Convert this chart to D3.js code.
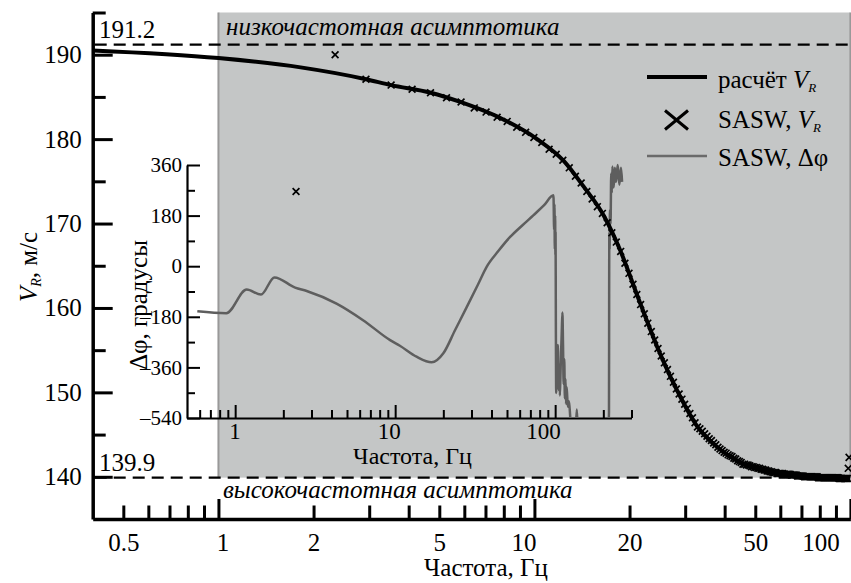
<!DOCTYPE html>
<html>
<head>
<meta charset="utf-8">
<script src="https://cdn.jsdelivr.net/npm/d3@7"></script>
<style>
  body { margin: 0; background: #fff; }
  svg { display: block; }
</style>
</head>
<body>
<svg id="chart"></svg>
<script>
// calculated V_R curve
const calcFreq = [0.4, 1, 1.82, 2.93, 3.52, 4.7, 5.83, 8.0, 10.2, 12.4, 14.3, 16.6, 18.7, 21.1,
  24.4, 28.3, 32.7, 38.8, 45.9, 57, 72.9, 100];
const calcVel = [190.5, 189.6, 188.5, 187.1, 186.4, 185.5, 184.4, 182.3, 180.0, 177.4, 174.4, 170.9, 166.8, 161.6,
  155.5, 150.2, 146.0, 143.2, 141.5, 140.5, 140.0, 139.8];

// SASW V_R points
const saswFreq = [
  1.76, 2.34, 2.93, 3.52, 4.10, 4.69, 5.27, 5.86, 6.45, 7.03,
  7.62, 8.20, 8.79, 9.38, 9.96, 10.55, 11.13, 11.72, 12.30, 12.89,
  13.48, 14.06, 14.65, 15.23, 15.82, 16.41, 16.99, 17.58, 18.16, 18.75,
  19.34, 19.92, 20.51, 21.09, 21.68, 22.27, 22.85, 23.44, 24.02, 24.61,
  25.20, 25.78, 26.37, 26.95, 27.54, 28.13, 28.71, 29.30, 29.88, 30.47,
  31.05, 31.64, 32.23, 32.81, 33.40, 33.98, 34.57, 35.16, 35.74, 36.33,
  36.91, 37.50, 38.09, 38.67, 39.26, 39.84, 40.43, 41.02, 41.60, 42.19,
  42.77, 43.36, 43.95, 44.53, 45.12, 45.70, 46.29, 46.88, 47.46, 48.05,
  48.63, 49.22, 49.80, 50.39, 50.98, 51.56, 52.15, 52.73, 53.32, 53.91,
  54.49, 55.08, 55.66, 56.25, 56.84, 57.42, 58.01, 58.59, 59.18, 59.77,
  60.35, 60.94, 61.52, 62.11, 62.70, 63.28, 63.87, 64.45, 65.04, 65.63,
  66.21, 66.80, 67.38, 67.97, 68.55, 69.14, 69.73, 70.31, 70.90, 71.48,
  72.07, 72.66, 73.24, 73.83, 74.41, 75.00, 75.59, 76.17, 76.76, 77.34,
  77.93, 78.52, 79.10, 79.69, 80.27, 80.86, 81.45, 82.03, 82.62, 83.20,
  83.79, 84.38, 84.96, 85.55, 86.13, 86.72, 87.30, 87.89, 88.48, 89.06,
  89.65, 90.23, 90.82, 91.41, 91.99, 92.58, 93.16, 93.75, 94.34, 94.92,
  95.51, 96.09, 96.68, 97.27, 97.85, 98.44, 99.02];
const saswVel = [
  173.8, 190.0, 187.1, 186.4, 185.9, 185.5, 184.9, 184.4, 183.7, 183.2,
  182.6, 182.1, 181.4, 180.8, 180.2, 179.6, 178.8, 178.2, 177.5, 176.6,
  175.6, 174.8, 173.8, 172.9, 172.0, 171.2, 170.1, 168.9, 167.8, 166.7,
  165.3, 164.1, 162.8, 161.6, 160.4, 159.3, 158.2, 157.2, 156.2, 155.2,
  154.3, 153.5, 152.7, 151.9, 151.2, 150.4, 149.8, 149.2, 148.6, 148.1,
  147.5, 147.0, 146.4, 145.9, 145.7, 145.4, 145.1, 144.8, 144.5, 144.3,
  144.0, 143.8, 143.5, 143.3, 143.1, 142.9, 142.8, 142.6, 142.5, 142.4,
  142.2, 142.1, 141.9, 141.8, 141.7, 141.5, 141.5, 141.4, 141.4, 141.3,
  141.2, 141.2, 141.1, 141.1, 141.0, 141.0, 140.9, 140.9, 140.8, 140.8,
  140.7, 140.7, 140.6, 140.6, 140.5, 140.5, 140.5, 140.4, 140.4, 140.4,
  140.4, 140.4, 140.3, 140.3, 140.3, 140.3, 140.3, 140.3, 140.2, 140.2,
  140.2, 140.2, 140.2, 140.1, 140.1, 140.1, 140.1, 140.1, 140.1, 140.0,
  140.0, 140.0, 140.0, 140.0, 140.0, 140.0, 140.0, 140.0, 140.0, 140.0,
  140.0, 140.0, 139.9, 139.9, 139.9, 139.9, 139.9, 139.9, 139.9, 139.9,
  139.9, 139.9, 139.9, 139.9, 139.9, 139.9, 139.9, 139.9, 139.9, 139.9,
  139.9, 139.9, 139.9, 139.9, 139.8, 139.8, 139.8, 139.8, 139.8, 139.8,
  139.8, 139.8, 139.8, 139.8, 139.8, 141.0, 142.3];

// SASW phase difference (inset)
const phaseFreq = [0.58, 0.88, 1.18, 1.45, 1.76, 2.37, 2.8, 4.3, 6.3, 9.3, 10.7, 13.6, 16.9, 20.0, 23.7,
  28.1, 33, 37.3, 44, 52.3, 62, 73, 85, 97.6, 98.5, 99, 99.5, 100, 100.3, 100.6, 101, 101.5,
  102, 103, 104, 105, 106, 107, 108, 109, 110, 111, 112, 113, 114, 115, 116, 117, 118, 120,
  122, 124, 126, 134, 136.5, 139, 214, 217, 217.5, 218, 219, 220, 222, 224, 226, 228,
  232, 236, 240, 246, 252, 258, 262];
const phaseDeg = [-160, -167, -83, -101, -40, -76, -88, -133, -192, -263, -283, -322, -342, -310, -227,
  -144, -64, -2, 53, 104, 144, 181, 216, 252, 130, 220, 60, 180, 40, 120, -200, -451,
  -300, -420, -280, -440, -350, -460, -380, -300, -230, -165, -280, -420, -330, -470, -400, -490, -430, -500,
  -480, -530, -600, -600, -510, -600, -600, -517, -100, 120, 60, 200, 150, 330, 260, 355,
  280, 350, 300, 360, 290, 350, 300];

const yMajor = [140, 150, 160, 170, 180, 190];
const yMinor = [145, 155, 165, 175, 185, 195];
const xMajor = [1, 10, 100];
const xMinor = [0.5, 0.6, 0.7, 0.8, 0.9, 2, 3, 4, 5, 6, 7, 8, 9, 20, 30, 40, 50, 60, 70, 80, 90];
const xLabels = [0.5, 1, 2, 5, 10, 20, 50, 100];
const asymptotes = [191.2, 139.9];

const phaseMajor = [-540, -360, -180, 0, 180, 360];
const phaseMinor = [-450, -270, -90, 90, 270];
const ixMajor = [1, 10, 100];
const ixMinor = [0.6, 0.7, 0.8, 0.9, 2, 3, 4, 5, 6, 7, 8, 9, 20, 30, 40, 50, 60, 70, 80, 90, 200, 300];

const width = 851;
const height = 583;

const svg = d3.select("#chart")
  .attr("width", width)
  .attr("height", height);

const x = d3.scaleLog().domain([0.4, 100]).range([92.7, 850.4]);
const y = d3.scaleLinear().domain([135, 195]).range([519, 12.5]);

const ix = d3.scaleLog().domain([0.5, 300]).range([187, 631.5]);
const iy = d3.scaleLinear().domain([-540, 360]).range([418, 165]);

const noAxisFont = g => g.attr("font-family", null).attr("font-size", null);

// gray band (f >= 1 Hz)
svg.append("rect")
  .attr("x", x(1))
  .attr("y", y(195))
  .attr("width", x(100) - x(1))
  .attr("height", y(139.9) - y(195))
  .attr("fill", "#c4c6c6");
[1, 100].forEach(f => {
  svg.append("line")
    .attr("x1", x(f)).attr("x2", x(f))
    .attr("y1", y(195)).attr("y2", y(139.9))
    .attr("stroke", "#999").attr("stroke-width", 2);
});

// asymptotes
asymptotes.forEach(v => {
  svg.append("line")
    .attr("x1", x(0.4) + 2).attr("x2", width)
    .attr("y1", y(v)).attr("y2", y(v))
    .attr("stroke", "#000")
    .attr("stroke-width", 2.2)
    .attr("stroke-dasharray", "12,7");
  svg.append("text")
    .attr("x", 99)
    .attr("y", y(v) - 7)
    .attr("font-size", 25)
    .text(v.toFixed(1));
});

svg.append("text")
  .attr("x", 226).attr("y", 35)
  .attr("font-size", 25).attr("font-style", "italic")
  .text("низкочастотная асимптотика");
svg.append("text")
  .attr("x", 223).attr("y", 498)
  .attr("font-size", 25).attr("font-style", "italic")
  .text("высокочастотная асимптотика");

// ---- inset: phase difference ----
const inset = svg.append("g");

svg.append("clipPath").attr("id", "insetClip")
  .append("rect")
  .attr("x", ix(0.5)).attr("y", iy(360) - 2)
  .attr("width", ix(300) - ix(0.5)).attr("height", iy(-540) - iy(360) + 1);

const phaseData = phaseFreq.map((f, i) => ({ f, v: phaseDeg[i] }));
inset.append("path")
  .datum(phaseData)
  .attr("clip-path", "url(#insetClip)")
  .attr("fill", "none")
  .attr("stroke", "#5e5e5e")
  .attr("stroke-width", 2.5)
  .attr("stroke-linejoin", "round")
  .attr("d", d3.line().x(d => ix(d.f)).y(d => iy(d.v)).curve(d3.curveMonotoneX));

const minus = d => (d < 0 ? "\u2013" + (-d) : String(d));

const iyAxis = inset.append("g")
  .attr("transform", `translate(${ix(0.5)},0)`)
  .call(d3.axisLeft(iy).tickValues(phaseMajor).tickSize(-13).tickSizeOuter(0).tickPadding(5).tickFormat(minus))
  .call(noAxisFont);
inset.append("g")
  .attr("transform", `translate(${ix(0.5)},0)`)
  .call(d3.axisLeft(iy).tickValues(phaseMinor).tickSize(-8).tickFormat(""))
  .call(g => g.select(".domain").remove());

const ixAxis = inset.append("g")
  .attr("transform", `translate(0,${iy(-540)})`)
  .call(d3.axisBottom(ix).tickValues(ixMajor).tickSize(-13).tickSizeOuter(0).tickPadding(5).tickFormat(d3.format("")))
  .call(noAxisFont);
inset.append("g")
  .attr("transform", `translate(0,${iy(-540)})`)
  .call(d3.axisBottom(ix).tickValues(ixMinor).tickSize(-8).tickFormat(""))
  .call(g => g.select(".domain").remove());

inset.selectAll(".domain").attr("stroke", "#000").attr("stroke-width", 2.2);
inset.selectAll(".tick line").attr("stroke", "#000").attr("stroke-width", 2);
iyAxis.selectAll("text").attr("font-size", 21).attr("fill", "#000");
ixAxis.selectAll("text").attr("font-size", 23).attr("fill", "#000")
  .attr("text-anchor", "end").attr("dx", 5);

inset.append("text")
  .attr("x", 412.5).attr("y", 464)
  .attr("text-anchor", "middle").attr("font-size", 24)
  .text("Частота, Гц");
inset.append("text")
  .attr("transform", "translate(147,305) rotate(-90)")
  .attr("text-anchor", "middle").attr("font-size", 25)
  .text("Δφ, градусы");

// ---- main curve and SASW points ----
const calcData = calcFreq.map((f, i) => ({ f, v: calcVel[i] }));
svg.append("path")
  .datum(calcData)
  .attr("fill", "none")
  .attr("stroke", "#000")
  .attr("stroke-width", 4)
  .attr("d", d3.line().x(d => x(d.f)).y(d => y(d.v)).curve(d3.curveMonotoneX));

const cross = s => `M${-s},${-s}L${s},${s}M${-s},${s}L${s},${-s}`;
svg.append("g")
  .selectAll("path")
  .data(saswFreq.map((f, i) => ({ f, v: saswVel[i] })))
  .join("path")
  .attr("transform", d => `translate(${x(d.f)},${y(d.v)})`)
  .attr("d", cross(3.4))
  .attr("stroke", "#000")
  .attr("stroke-width", 1.7);

// ---- main axes ----
const axes = svg.append("g");
axes.append("g")
  .attr("transform", `translate(${x(0.4)},0)`)
  .call(d3.axisLeft(y).tickValues(yMajor).tickSize(-20).tickSizeOuter(0).tickPadding(11))
  .call(noAxisFont);
axes.append("g")
  .attr("transform", `translate(${x(0.4)},0)`)
  .call(d3.axisLeft(y).tickValues(yMinor).tickSize(-13).tickFormat(""))
  .call(g => g.select(".domain").remove());

axes.append("g")
  .attr("transform", `translate(0,${y(135)})`)
  .call(d3.axisBottom(x).tickValues(xMajor).tickSize(-20).tickSizeOuter(0).tickFormat(""));
axes.append("g")
  .attr("transform", `translate(0,${y(135)})`)
  .call(d3.axisBottom(x).tickValues(xMinor).tickSize(-13.5).tickFormat(""))
  .call(g => g.select(".domain").remove());
const xLab = axes.append("g")
  .attr("transform", `translate(0,${y(135)})`)
  .call(d3.axisBottom(x).tickValues(xLabels).tickSize(0).tickPadding(14).tickFormat(d3.format("")))
  .call(noAxisFont)
  .call(g => g.select(".domain").remove());

axes.selectAll(".domain").attr("stroke", "#000").attr("stroke-width", 3.5);
axes.selectAll(".tick line").attr("stroke", "#000").attr("stroke-width", 3);
axes.selectAll("text").attr("font-size", 25).attr("fill", "#000");
const labelShift = { 1: 4, 10: -11, 100: -30 };
xLab.selectAll("text").attr("dx", d => labelShift[d] || 0);

svg.append("text")
  .attr("x", 486).attr("y", 576)
  .attr("text-anchor", "middle").attr("font-size", 25)
  .text("Частота, Гц");

const yTitle = svg.append("text")
  .attr("transform", "translate(37,267) rotate(-90)")
  .attr("text-anchor", "middle").attr("font-size", 25);
yTitle.append("tspan").attr("font-style", "italic").text("V");
yTitle.append("tspan").attr("font-style", "italic").attr("font-size", 14).attr("dy", 4).text("R");
yTitle.append("tspan").attr("dy", -4).text(", м/с");

// ---- legend ----
const legend = svg.append("g");
legend.append("line")
  .attr("x1", 647).attr("x2", 707).attr("y1", 77).attr("y2", 77)
  .attr("stroke", "#000").attr("stroke-width", 4);
legend.append("path")
  .attr("d", "M665,110.5L688,129.5M665,129.5L688,110.5")
  .attr("stroke", "#000").attr("stroke-width", 3);
legend.append("line")
  .attr("x1", 647).attr("x2", 707).attr("y1", 156).attr("y2", 156)
  .attr("stroke", "#6a6a6a").attr("stroke-width", 2.5);

const legendText = [["расчёт ", true, 88], ["SASW, ", true, 128], ["SASW, Δφ", false, 166]];
legendText.forEach(([label, sub, yy]) => {
  const t = legend.append("text").attr("x", 718).attr("y", yy).attr("font-size", 25).text(label);
  if (sub) {
    t.append("tspan").attr("font-style", "italic").text("V");
    t.append("tspan").attr("font-style", "italic").attr("font-size", 13).attr("dy", 4).text("R");
  }
});

// serif everywhere
svg.selectAll("text").style("font-family", '"Liberation Serif"');
</script>
</body>
</html>
